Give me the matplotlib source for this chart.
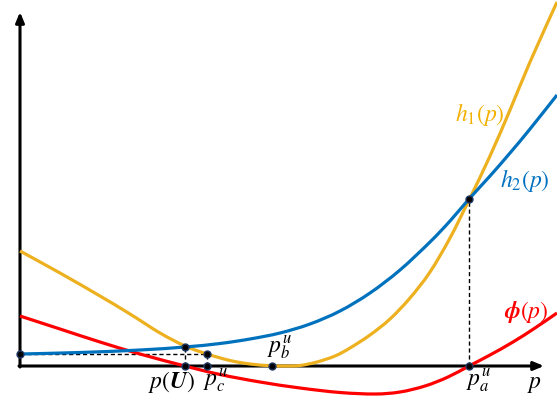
import numpy as np
import matplotlib
matplotlib.use('Agg')
import matplotlib.pyplot as plt
from matplotlib.path import Path
from matplotlib.patches import PathPatch

plt.rcParams['mathtext.fontset'] = 'stix'

# curves (p along the axis, value above the axis)
p_h1 = [0, 40, 80, 110, 140, 165, 187, 210, 230, 250, 265, 280, 297, 315, 330, 350, 370, 390, 410, 430, 449, 470, 490, 510, 537]
h1 = [115, 93, 70, 52, 33, 20, 12, 5.5, 2, 0.3, 0, 0.5, 4, 10, 18, 31, 47, 68, 94, 128, 166, 210, 256, 304, 364]

p_h2 = [0, 60, 120, 165, 200, 230, 260, 290, 320, 350, 380, 410, 430, 449, 470, 490, 510, 537]
h2 = [12, 13.5, 16, 19, 22.5, 27, 33, 42, 55, 73, 96, 124, 145, 167, 190, 213, 237, 271]

p_phi = [0, 40, 80, 120, 165, 200, 240, 280, 320, 355, 380, 405, 428, 449, 470, 493, 515, 537]
phi = [50, 37, 24, 12, 0, -8.5, -16, -22, -26.5, -28, -26, -20, -11, 0, 11, 24, 38, 53]

# special points
p_U, p_c, p_b, p_a = 165, 187, 252, 449
h2_0, h2_U, h_a = 12, 19, 167

yellow = '#EDB120'
blue = '#0072BD'
red = '#FF0000'


def smooth_path(x, y):
    # cubic bezier through the read points (catmull-rom tangents)
    pts = np.column_stack([x, y]).astype(float)
    verts = [pts[0]]
    codes = [Path.MOVETO]
    n = len(pts)
    for i in range(n - 1):
        p0 = pts[i - 1] if i > 0 else pts[i]
        p1 = pts[i]
        p2 = pts[i + 1]
        p3 = pts[i + 2] if i + 2 < n else pts[i + 1]
        c1 = p1 + (p2 - p0) / 6.0
        c2 = p2 - (p3 - p1) / 6.0
        verts += [c1, c2, p2]
        codes += [Path.CURVE4] * 3
    return Path(verts, codes)


def draw_curve(ax, x, y, color, z):
    ax.add_patch(PathPatch(smooth_path(x, y), facecolor='none', edgecolor=color,
                           lw=2.3, zorder=z, capstyle='butt'))


fig = plt.figure(figsize=(5.57, 4.19), dpi=100)
ax = fig.add_axes([0, 0, 1, 1])
ax.set_xlim(-20, 537)
ax.set_ylim(-53, 366)
ax.axis('off')

# axes with arrows
ax.annotate('', xy=(524, 0), xytext=(-1, 0),
            arrowprops=dict(arrowstyle='-|>,head_length=0.6,head_width=0.25', color='black', lw=2.2,
                            shrinkA=0, shrinkB=0))
ax.annotate('', xy=(0, 354), xytext=(0, -1),
            arrowprops=dict(arrowstyle='-|>,head_length=0.6,head_width=0.25', color='black', lw=2.2,
                            shrinkA=0, shrinkB=0))

# dashed guides
ax.plot([0, p_c], [h2_0, h2_0], 'k--', lw=1, dashes=(3, 2), zorder=2)
ax.plot([p_U, p_U], [0, h2_U], 'k--', lw=1, dashes=(3, 2), zorder=2)
ax.plot([p_c, p_c], [0, h2_0], 'k--', lw=1, dashes=(3, 2), zorder=2)
ax.plot([p_a, p_a], [0, h_a], 'k--', lw=1, dashes=(3, 2), zorder=2)

draw_curve(ax, p_h1, h1, yellow, 3)
draw_curve(ax, p_h2, h2, blue, 4)
draw_curve(ax, p_phi, phi, red, 3)

mx = [0, p_U, p_U, p_c, p_c, p_b, p_a, p_a]
my = [h2_0, h2_U, 0, h2_0, 0, 0, h_a, 0]
ax.plot(mx, my, 'o', ms=5, mfc='black', mec='#1F3864', mew=1, zorder=6, linestyle='none')

fs = 17
ax.text(460, 252, r'$h_1(p)$', color='#F2B000', fontsize=fs, ha='center', va='center')
ax.text(505, 186, r'$h_2(p)$', color='#0070C0', fontsize=fs, ha='center', va='center')
ax.text(506, 54, r'$\mathbfit{\phi}(p)$', color=red, fontsize=fs, ha='center', va='center')
ax.text(260, 19, r'$p_b^u$', color='black', fontsize=fs, ha='center', va='center')
ax.text(152, -16, r'$p(\mathbfit{U})$', color='black', fontsize=fs, ha='center', va='center')
ax.text(196, -14, r'$p_c^u$', color='black', fontsize=fs, ha='center', va='center')
ax.text(459, -14, r'$p_a^u$', color='black', fontsize=fs, ha='center', va='center')
ax.text(514, -17, r'$p$', color='black', fontsize=fs, ha='center', va='center')

fig.savefig('out.png', dpi=100)
